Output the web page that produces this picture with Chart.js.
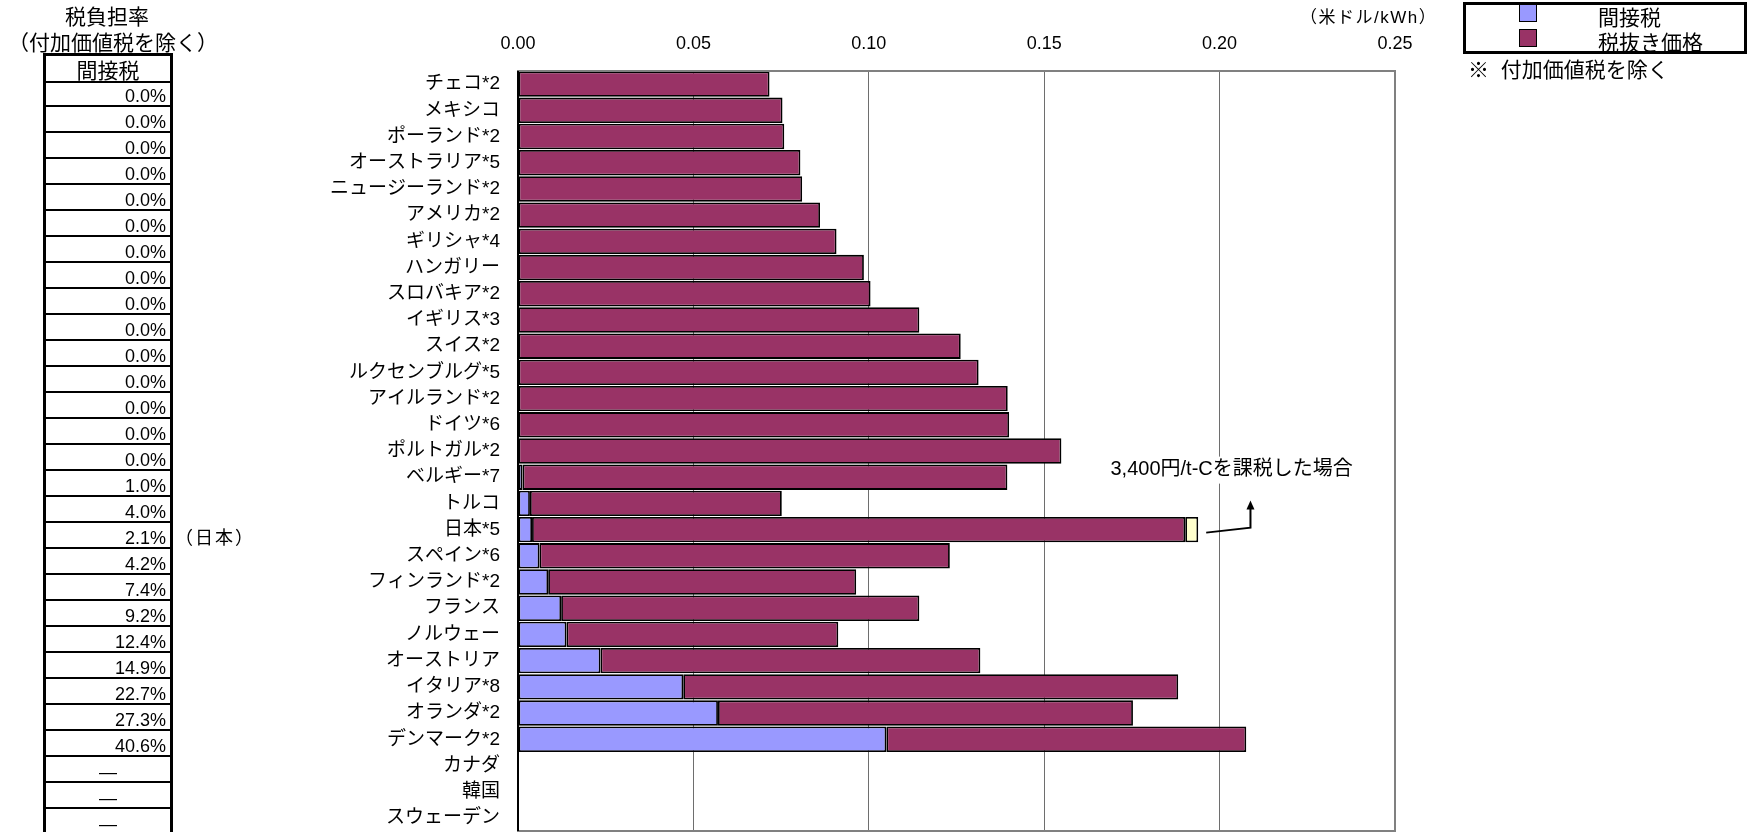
<!DOCTYPE html>
<html lang="ja">
<head>
<meta charset="utf-8">
<script src="https://cdn.jsdelivr.net/npm/chart.js@4"></script>
<style>
  body { margin: 0; background: #fff; font-family: "Liberation Sans", "Noto Sans CJK JP", sans-serif; }
  #wrap { position: relative; width: 1753px; height: 832px; overflow: hidden; }
  #chart { position: absolute; left: 0; top: 0; }
  .txt { position: absolute; white-space: nowrap; color: #000; line-height: 1; }
  #table { position: absolute; left: 43px; top: 53px; width: 124px; height: 800px;
           border-left: 3px solid #000; border-right: 3px solid #000; border-top: 3px solid #000; }
  .row { position: absolute; left: 0; width: 124px; border-bottom: 2px solid #000; box-sizing: border-box;
         font-size: 18px; display: flex; align-items: center; justify-content: flex-end; padding: 6px 4px 0 0; }
  .row.dash { justify-content: center; padding-right: 0; }
  #legend { position: absolute; left: 1463px; top: 2px; width: 278px; height: 46px; border: 3px solid #000; }
  .sw { position: absolute; width: 16px; height: 16px; border: 1.5px solid #000; }
</style>
</head>
<body>
<div id="wrap">
  <canvas id="chart" width="1753" height="832"></canvas>
  <div class="txt" style="left:65px;top:6px;font-size:21px;">税負担率</div>
  <div class="txt" style="left:8px;top:32px;font-size:21px;">（付加価値税を除く）</div>
  <div id="table"></div>
  <div class="txt" id="unit" style="left:1300px;top:9px;font-size:17px;letter-spacing:1.5px;">（米ドル/kWh）</div>
  <div id="legend"></div>
  <div class="txt" style="left:1468px;top:59px;font-size:21px;">※&nbsp;&nbsp;付加価値税を除く</div>
</div>
<script>
// Data
const categories = ['チェコ*2', 'メキシコ', 'ポーランド*2', 'オーストラリア*5', 'ニュージーランド*2', 'アメリカ*2',
  'ギリシャ*4', 'ハンガリー', 'スロバキア*2', 'イギリス*3', 'スイス*2', 'ルクセンブルグ*5', 'アイルランド*2',
  'ドイツ*6', 'ポルトガル*2', 'ベルギー*7', 'トルコ', '日本*5', 'スペイン*6', 'フィンランド*2', 'フランス',
  'ノルウェー', 'オーストリア', 'イタリア*8', 'オランダ*2', 'デンマーク*2', 'カナダ', '韓国', 'スウェーデン'];

// 間接税 (US$/kWh)
const indirectTax = [null, null, null, null, null, null, null, null, null, null, null, null, null, null, null,
  0.0013, 0.0034, 0.0040, 0.0061, 0.0086, 0.0123, 0.0138, 0.0235, 0.0471, 0.0570, 0.1050, null, null, null];

// 税抜き価格 (US$/kWh)
const priceExTax = [0.0717, 0.0754, 0.0759, 0.0805, 0.0810, 0.0861, 0.0908, 0.0986, 0.1005, 0.1144, 0.1262,
  0.1313, 0.1396, 0.1400, 0.1549, 0.1382, 0.0718, 0.1862, 0.1170, 0.0878, 0.1021, 0.0775, 0.1083, 0.1411,
  0.1183, 0.1026, null, null, null];

// 3,400円/t-C を課税した場合の上乗せ分 (日本のみ)
const carbonTax = [null, null, null, null, null, null, null, null, null, null, null, null, null, null, null,
  null, null, 0.0037, null, null, null, null, null, null, null, null, null, null, null];

// 税負担率（間接税）
const taxShare = ['0.0%', '0.0%', '0.0%', '0.0%', '0.0%', '0.0%', '0.0%', '0.0%', '0.0%', '0.0%', '0.0%',
  '0.0%', '0.0%', '0.0%', '0.0%', '1.0%', '4.0%', '2.1%', '4.2%', '7.4%', '9.2%', '12.4%', '14.9%', '22.7%',
  '27.3%', '40.6%', '—', '—', '—'];

const xTicks = [0, 0.05, 0.10, 0.15, 0.20, 0.25];
const legendLabels = ['間接税', '税抜き価格'];
const legendColors = ['#9999ff', '#993366'];
const noteText = '3,400円/t-Cを課税した場合';
const japanIndex = categories.indexOf('日本*5');

// Left table
const table = document.getElementById('table');
const head = document.createElement('div');
head.className = 'row dash';
head.style.top = '0px';
head.style.height = '27px';
head.style.fontSize = '21px';
head.style.paddingTop = '0px';
head.textContent = '間接税';
table.appendChild(head);
taxShare.forEach((label, i) => {
  const div = document.createElement('div');
  div.className = label === '—' ? 'row dash' : 'row';
  div.style.top = (25 + i * 26) + 'px';
  div.style.height = '26px';
  div.textContent = label;
  table.appendChild(div);
});
const jp = document.createElement('div');
jp.className = 'txt';
jp.style.left = '175px';
jp.style.top = (80 + japanIndex * 26 + 7) + 'px';
jp.style.fontSize = '18px';
jp.style.letterSpacing = '2px';
jp.textContent = '（日本）';
document.getElementById('wrap').appendChild(jp);

// Legend box
const legend = document.getElementById('legend');
legendLabels.forEach((label, i) => {
  const sw = document.createElement('div');
  sw.className = 'sw';
  sw.style.left = '53px';
  sw.style.top = (-1 + i * 25) + 'px';
  sw.style.background = legendColors[i];
  legend.appendChild(sw);
  const t = document.createElement('div');
  t.className = 'txt';
  t.style.left = '132px';
  t.style.top = (2 + i * 25) + 'px';
  t.style.fontSize = '21px';
  t.textContent = label;
  legend.appendChild(t);
});

// Frame of plot area + annotation for Japan
const notesPlugin = {
  id: 'notes',
  afterDatasetsDraw(chart) {
    const { ctx, scales: { x } } = chart;
    const el = chart.getDatasetMeta(2).data[japanIndex];
    const endX = el.x;
    const yc = el.y;
    ctx.save();
    ctx.font = '20px "Liberation Sans", "Noto Sans CJK JP", sans-serif';
    const tx = x.getPixelForValue(0.1689);
    const ty = yc - 60;
    const w = ctx.measureText(noteText).width;
    ctx.fillStyle = '#fff';
    ctx.fillRect(tx - 4, ty - 13, w + 8, 27);
    ctx.fillStyle = '#000';
    ctx.textBaseline = 'middle';
    ctx.fillText(noteText, tx, ty);
    // arrow
    const cx = x.getPixelForValue(0.2088);
    ctx.strokeStyle = '#000';
    ctx.lineWidth = 2;
    ctx.beginPath();
    ctx.moveTo(endX + 8, yc + 3);
    ctx.lineTo(cx, yc - 2);
    ctx.lineTo(cx, yc - 22);
    ctx.stroke();
    ctx.beginPath();
    ctx.moveTo(cx, yc - 29);
    ctx.lineTo(cx - 4, yc - 20);
    ctx.lineTo(cx + 4, yc - 20);
    ctx.closePath();
    ctx.fillStyle = '#000';
    ctx.fill();
    ctx.restore();
  },
  afterDraw(chart) {
    const { ctx, chartArea: a } = chart;
    ctx.save();
    ctx.strokeStyle = '#808080';
    ctx.lineWidth = 2;
    ctx.strokeRect(a.left, a.top, a.right - a.left, a.bottom - a.top);
    ctx.strokeStyle = '#000';
    ctx.beginPath();
    ctx.moveTo(a.left, a.top);
    ctx.lineTo(a.left, a.bottom);
    ctx.stroke();
    ctx.restore();
  }
};

const font = { family: '"Liberation Sans", "Noto Sans CJK JP", sans-serif' };

new Chart(document.getElementById('chart'), {
  type: 'bar',
  data: {
    labels: categories,
    datasets: [
      { label: legendLabels[0], data: indirectTax, backgroundColor: legendColors[0] },
      { label: legendLabels[1], data: priceExTax, backgroundColor: legendColors[1] },
      { label: 'carbon', data: carbonTax, backgroundColor: '#ffffcc' }
    ].map(ds => Object.assign(ds, {
      borderColor: '#000',
      borderWidth: 1.8,
      borderSkipped: false,
      barPercentage: 0.97,
      categoryPercentage: 1.0
    }))
  },
  options: {
    indexAxis: 'y',
    responsive: false,
    animation: false,
    layout: { padding: { left: 0, right: 358, top: 0, bottom: 1 } },
    plugins: { legend: { display: false }, tooltip: { enabled: false } },
    scales: {
      x: {
        position: 'top',
        stacked: true,
        min: 0,
        max: 0.25,
        afterFit(scale) { scale.height = 71; },
        afterBuildTicks(scale) { scale.ticks = xTicks.map(v => ({ value: v })); },
        ticks: {
          padding: 16,
          color: '#000',
          font: Object.assign({ size: 18 }, font),
          callback: v => Number(v).toFixed(2)
        },
        grid: { color: '#6e6e6e', lineWidth: 1, drawTicks: false },
        border: { display: false }
      },
      y: {
        stacked: true,
        afterFit(scale) {
          scale.width = 518;
          scale.paddingTop = 0;
          scale.paddingBottom = 0;
        },
        ticks: {
          autoSkip: false,
          padding: 10,
          color: '#000',
          font: Object.assign({ size: 19 }, font)
        },
        grid: { display: false },
        border: { display: false }
      }
    }
  },
  plugins: [notesPlugin]
});
</script>
</body>
</html>
